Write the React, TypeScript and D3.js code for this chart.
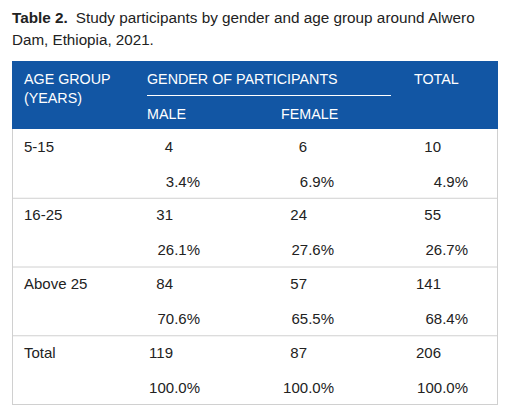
import React from "react";
import * as d3 from "d3";

const titleBold = "Table 2.";
const titleLine1 = "Study participants by gender and age group around Alwero";
const titleLine2 = "Dam, Ethiopia, 2021.";

const headerAge = ["AGE GROUP", "(YEARS)"];
const headerGender = "GENDER OF PARTICIPANTS";
const headerTotal = "TOTAL";
const genderLabels = ["MALE", "FEMALE"];

const ageGroups = ["5-15", "16-25", "Above 25", "Total"];
const maleCounts = [4, 31, 84, 119];
const femaleCounts = [6, 24, 57, 87];
const totalCounts = [10, 55, 141, 206];
const malePct = [3.4, 26.1, 70.6, 100.0];
const femalePct = [6.9, 27.6, 65.5, 100.0];
const totalPct = [4.9, 26.7, 68.4, 100.0];

const W = 510;
const H = 417;
const FONT = "'Liberation Sans', Arial, Helvetica, sans-serif";
const BLUE = "#1256a4";
const GRID = "#d0d0d0";
const TEXT = "#222";

export default function App() {
  const left = 12;
  const right = 498;
  const headTop = 61;
  const bodyTop = 129;
  const bodyBottom = 404;

  const y = d3.scaleBand<string>().domain(ageGroups).range([bodyTop, bodyBottom]);
  const colKeys = ["male", "female", "total"];
  // anchor for the right edge of the count; percentages end 27px further
  const x = d3.scalePoint<string>().domain(colKeys).range([173, 441]);
  const pctOffset = 27;
  const fmt = d3.format(".1f");

  const cols = [
    { key: "male", counts: maleCounts, pcts: malePct },
    { key: "female", counts: femaleCounts, pcts: femalePct },
    { key: "total", counts: totalCounts, pcts: totalPct },
  ];

  return (
    <svg
      width={W}
      height={H}
      style={{ position: "absolute", left: 0, top: 0, background: "#fff" }}
      fontFamily={FONT}
    >
      <rect x={0} y={0} width={W} height={H} fill="#fff" />
      {/* Title */}
      <text x={left} y={23} fontSize={15.3} fill={TEXT}>
        <tspan fontWeight="bold">{titleBold}</tspan>
        <tspan dx={8}>{titleLine1}</tspan>
      </text>
      <text x={left} y={45} fontSize={15.2} fill={TEXT}>
        {titleLine2}
      </text>

      {/* Header */}
      <rect x={left} y={headTop} width={right - left} height={bodyTop - headTop} fill={BLUE} />
      <g fill="#fff" fontSize={14.3}>
        <text x={24} y={84}>{headerAge[0]}</text>
        <text x={24} y={103}>{headerAge[1]}</text>
        <text x={147} y={84}>{headerGender}</text>
        <line x1={147} x2={391} y1={95.5} y2={95.5} stroke="#fff" strokeWidth={1} />
        <text x={147} y={119}>{genderLabels[0]}</text>
        <text x={281} y={119}>{genderLabels[1]}</text>
        <text x={414} y={84}>{headerTotal}</text>
      </g>

      {/* Body borders */}
      <g stroke={GRID} strokeWidth={1} fill="none">
        <line x1={left + 0.5} x2={left + 0.5} y1={bodyTop} y2={bodyBottom + 0.5} />
        <line x1={right - 0.5} x2={right - 0.5} y1={bodyTop} y2={bodyBottom + 0.5} />
        {ageGroups.map((g) => (
          <line
            key={g}
            x1={left}
            x2={right}
            y1={(y(g) as number) + y.bandwidth() + 0.5}
            y2={(y(g) as number) + y.bandwidth() + 0.5}
          />
        ))}
      </g>

      {/* Body text */}
      <g fontSize={15} fill={TEXT}>
        {ageGroups.map((g, i) => {
          const y0 = y(g) as number;
          return (
            <g key={g}>
              <text x={24} y={y0 + 22.5}>{g}</text>
              {cols.map((c) => (
                <g key={c.key}>
                  <text x={x(c.key) as number} y={y0 + 22.5} textAnchor="end">
                    {c.counts[i]}
                  </text>
                  <text x={(x(c.key) as number) + pctOffset} y={y0 + 57.5} textAnchor="end">
                    {fmt(c.pcts[i])}%
                  </text>
                </g>
              ))}
            </g>
          );
        })}
      </g>
    </svg>
  );
}
